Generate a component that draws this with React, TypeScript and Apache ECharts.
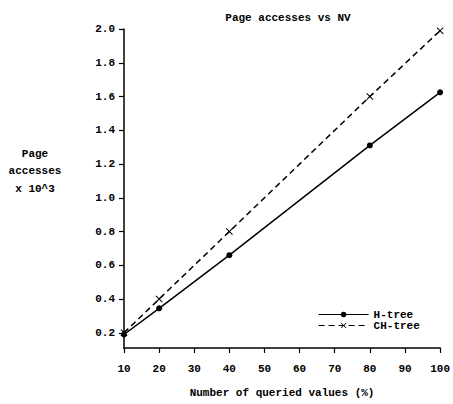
import React, { useEffect, useRef } from "react";
import * as echarts from "echarts";

const xValues = [10, 20, 40, 80, 100];
const hTree = [0.19, 0.345, 0.66, 1.31, 1.625];
const chTree = [0.2, 0.4, 0.8, 1.6, 1.99];
const yTicks = [0.2, 0.4, 0.6, 0.8, 1.0, 1.2, 1.4, 1.6, 1.8, 2.0];
const title = "Page accesses vs NV";
const xName = "Number of queried values (%)";
const yName = "Page\naccesses\nx 10^3";

const FONT = "Liberation Mono";
const CROSS = "path://M0,1L1,0L5,4L9,0L10,1L6,5L10,9L9,10L5,6L1,10L0,9L4,5Z";

export default function App() {
  const ref = useRef<HTMLDivElement>(null);
  useEffect(() => {
    const chart = echarts.init(ref.current!, null, { renderer: "svg" });
    const txt = { fontFamily: FONT, fontWeight: "bold", fontSize: 11, color: "#000" };
    chart.setOption({
      animation: false,
      backgroundColor: "#fff",
      title: {
        text: title,
        left: 283,
        top: 7,
        textAlign: "center",
        textStyle: { ...txt, fontSize: 11 },
      },
      graphic: [
        {
          type: "text",
          x: 35,
          y: 145,
          style: {
            text: yName,
            fill: "#000",
            font: `bold 11px ${FONT}`,
            align: "center",
            verticalAlign: "top",
            lineHeight: 17.5,
          },
        },
      ],
      legend: {
        orient: "vertical",
        left: 318,
        top: 309,
        padding: 0,
        itemGap: 0,
        itemWidth: 50,
        itemHeight: 7,
        lineStyle: { width: 1.2 },
        textStyle: { ...txt, fontSize: 11, lineHeight: 11 },
        data: ["H-tree", "CH-tree"],
      },
      grid: { left: 124, right: 10, top: 29, bottom: 56 },
      xAxis: {
        type: "value",
        min: 10,
        max: 100,
        interval: 10,
        name: xName,
        nameLocation: "middle",
        nameGap: 39,
        nameTextStyle: txt,
        axisLine: { lineStyle: { color: "#000", width: 1.5 } },
        axisTick: { inside: false, length: 5, lineStyle: { color: "#000", width: 1.2 } },
        axisLabel: { ...txt, margin: 15 },
        splitLine: { show: false },
      },
      yAxis: {
        type: "value",
        min: 0.11,
        max: 2.0,
        axisLine: { show: true, lineStyle: { color: "#000", width: 1.5 } },
        axisTick: {
          show: true,
          length: 5,
          customValues: yTicks,
          lineStyle: { color: "#000", width: 1.2 },
        },
        axisLabel: {
          ...txt,
          margin: 9,
          customValues: yTicks,
          formatter: (v: number) => v.toFixed(1),
        },
        splitLine: { show: false },
      },
      series: [
        {
          name: "H-tree",
          type: "line",
          data: xValues.map((x, i) => [x, hTree[i]]),
          symbol: "circle",
          symbolSize: 6,
          lineStyle: { color: "#000", width: 1.5 },
          itemStyle: { color: "#000" },
        },
        {
          name: "CH-tree",
          type: "line",
          data: xValues.map((x, i) => [x, chTree[i]]),
          symbol: CROSS,
          symbolSize: 7,
          lineStyle: { color: "#000", width: 1.5, type: [6, 4] },
          itemStyle: { color: "#000" },
        },
      ],
    });
    return () => chart.dispose();
  }, []);
  return (
    <div
      ref={ref}
      style={{ position: "absolute", left: 0, top: 0, width: 453, height: 404 }}
    />
  );
}
